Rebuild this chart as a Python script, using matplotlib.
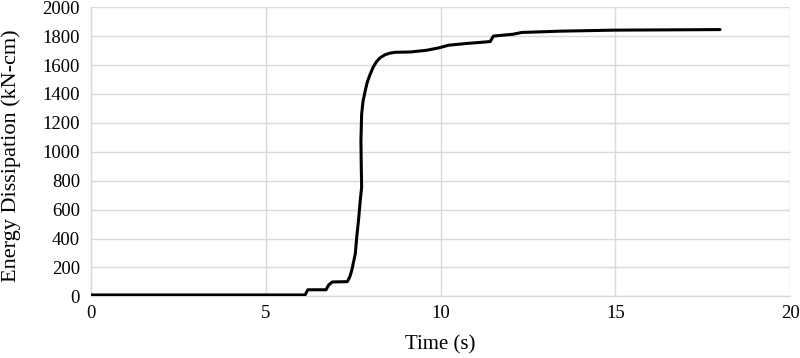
import matplotlib

matplotlib.use("Agg")

import matplotlib.pyplot as plt  # noqa: E402

# energy dissipation history
time_s = [
    0.0, 6.12, 6.2, 6.72, 6.8, 6.9, 7.33, 7.4, 7.46, 7.56, 7.6, 7.65, 7.7,
    7.74, 7.73, 7.72, 7.74, 7.78, 7.84, 7.9, 7.98, 8.07, 8.17, 8.28, 8.41,
    8.55, 8.7, 9.13, 9.6, 9.94, 10.23, 10.75, 11.42, 11.51, 12.08, 12.32,
    13.42, 14.95, 18.0,
]
energy_kncm = [
    10, 10, 46, 46, 80, 100, 102, 135, 182, 297, 411, 526, 663,
    755, 892, 1076, 1259, 1350, 1419, 1480, 1534, 1585, 1625, 1652, 1671,
    1682, 1688, 1690, 1702, 1718, 1737, 1749, 1762, 1800, 1813, 1825,
    1834, 1841, 1845,
]
x_ticks = [0, 5, 10, 15, 20]
y_ticks = list(range(0, 2001, 200))

plt.rcParams["font.family"] = ["Liberation Serif", "DejaVu Serif"]
_GRID = "#d9d9d9"

fig = plt.figure(figsize=(8.0, 3.58), dpi=100)
ax = fig.add_axes([0.114, 0.172, 0.8735, 0.808])

ax.plot(time_s, energy_kncm, color="black", linewidth=2.2,
        solid_joinstyle="round", solid_capstyle="round", zorder=3)

ax.set_xlim(0, 20)
ax.set_ylim(0, 2000)
ax.set_xticks(x_ticks)
ax.set_yticks(y_ticks)
ax.grid(True, color=_GRID, linewidth=1.0)
ax.set_axisbelow(True)
for side in ("top", "right"):
    ax.spines[side].set_visible(False)
for side in ("left", "bottom"):
    ax.spines[side].set_color(_GRID)
    ax.spines[side].set_linewidth(1.0)
ax.tick_params(length=0, labelsize=13.5, colors="black")
ax.tick_params(axis="y", pad=8)
ax.tick_params(axis="x", pad=6)

ax.set_xlabel("Time (s)", fontsize=15, labelpad=10)
ax.set_ylabel("Energy Dissipation (kN-cm)", fontsize=16, labelpad=8)
ax.yaxis.set_label_coords(-0.1, 0.485)

fig.savefig("out.png", dpi=100)
plt.close(fig)
